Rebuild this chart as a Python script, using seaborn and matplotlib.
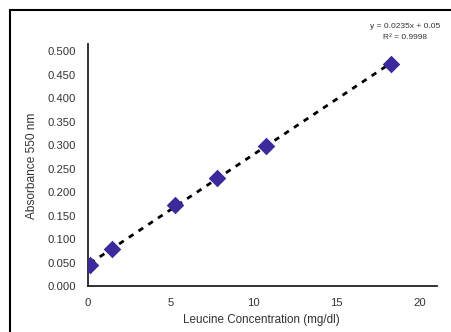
import numpy as np
import pandas as pd
import matplotlib
matplotlib.use("Agg")
import matplotlib.pyplot as plt
from matplotlib.patches import Rectangle
import seaborn as sns

# Data
concentration = [0.15, 1.45, 5.3, 7.78, 10.73, 18.25]
absorbance = [0.045, 0.079, 0.172, 0.229, 0.298, 0.472]
y_ticks = [0.0, 0.05, 0.1, 0.15, 0.2, 0.25, 0.3, 0.35, 0.4, 0.45, 0.5]
x_ticks = [0, 5, 10, 15, 20]
equation_text = "y = 0.0235x + 0.05"
r2_text = "R² = 0.9998"

sns.set_style("white")
plt.rcParams['font.family'] = ['Liberation Sans', 'DejaVu Sans']

df = pd.DataFrame({"conc": concentration, "abs": absorbance})

W, H = 451, 332
fig = plt.figure(figsize=(W / 100, H / 100), dpi=100)
ax = fig.add_axes([87.5 / W, 1 - 286 / H, (437 - 87.5) / W, (286 - 44) / H])

# linear trendline
slope, intercept = np.polyfit(df["conc"], df["abs"], 1)
xs = np.array([min(concentration), max(concentration)])
trend = pd.DataFrame({"x": xs, "y": slope * xs + intercept})
sns.lineplot(data=trend, x="x", y="y", ax=ax, color="black", linewidth=2.0,
             dashes=False, zorder=2)
ax.lines[-1].set_dashes([2.0, 2.2])

sns.scatterplot(data=df, x="conc", y="abs", ax=ax, marker="D", s=80,
                color="#3C2A9C", edgecolor="#3C2A9C", linewidth=0, zorder=3)

ax.set_xlim(0, 21.05)
ax.set_ylim(0, 0.515)
ax.set_xticks(x_ticks)
ax.set_yticks(y_ticks)
ax.set_yticklabels([f"{v:.3f}" for v in y_ticks])
ax.tick_params(axis="both", length=0, labelsize=8.1, colors="#333333")
ax.tick_params(axis="y", pad=8.3)
ax.tick_params(axis="x", pad=8.5)

for s in ["top", "right"]:
    ax.spines[s].set_visible(False)
for s in ["left", "bottom"]:
    ax.spines[s].set_color("#222222")
    ax.spines[s].set_linewidth(1.3)

ax.set_xlabel("Leucine Concentration (mg/dl)", fontsize=8.4, color="#333333")
ax.set_ylabel("Absorbance 550 nm", fontsize=8.6, color="#333333")
ax.xaxis.set_label_coords((261.5 - 87.5) / (437 - 87.5), -(320 - 286) / (286 - 44))
ax.xaxis.label.set_va("center")
ax.yaxis.set_label_coords(-(87.5 - 32) / (437 - 87.5), (286 - 166) / (286 - 44))
ax.yaxis.label.set_va("center")

fig.text(405 / W, 1 - 26 / H, equation_text, ha="center", va="center", fontsize=6.0, color="#333333")
fig.text(405 / W, 1 - 37.5 / H, r2_text, ha="center", va="center", fontsize=6.0, color="#333333")

# outer chart frame (extends beyond the cropped image)
fig.patches.append(Rectangle((10 / W, -0.1), 1.2, 1 - 10 / H + 0.1, transform=fig.transFigure,
                             fill=False, edgecolor="black", linewidth=1.5, zorder=10))

fig.savefig("out.png", dpi=100)
